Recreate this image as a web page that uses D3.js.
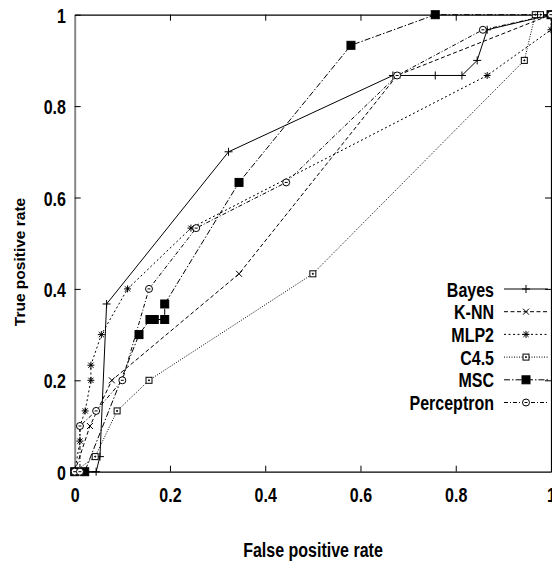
<!DOCTYPE html>
<html>
<head>
<meta charset="utf-8">
<script src="https://cdn.jsdelivr.net/npm/d3@7"></script>
<style>
  body { margin: 0; background: #fff; }
  svg { display: block; }
  text { font-family: "Liberation Sans", Arial, sans-serif; font-weight: bold; fill: #000; }
</style>
</head>
<body>
<svg id="chart"></svg>
<script>
// ROC curves, values
const xTicks = [0, 0.2, 0.4, 0.6, 0.8, 1];
const yTicks = [0, 0.2, 0.4, 0.6, 0.8, 1];
const seriesNames = ["Bayes", "K-NN", "MLP2", "C4.5", "MSC", "Perceptron"];

const bayesX = [0, 0.045, 0.053, 0.067, 0.323, 0.668, 0.757, 0.813, 0.845, 0.866, 1];
const bayesY = [0, 0, 0.033, 0.367, 0.7, 0.867, 0.867, 0.867, 0.9, 0.967, 1];

const knnX = [0, 0.032, 0.078, 0.345, 0.677, 1];
const knnY = [0, 0.1, 0.2, 0.433, 0.867, 1];

const mlpX = [0, 0.011, 0.011, 0.022, 0.034, 0.034, 0.056, 0.111, 0.244, 0.866, 1, 1];
const mlpY = [0, 0.067, 0.1, 0.133, 0.2, 0.233, 0.3, 0.4, 0.533, 0.867, 0.967, 1];

const c45X = [0, 0.043, 0.089, 0.156, 0.5, 0.944, 0.967, 0.978, 1];
const c45Y = [0, 0.033, 0.133, 0.2, 0.433, 0.9, 1, 1, 1];

const mscX = [0, 0.021, 0.135, 0.158, 0.167, 0.189, 0.189, 0.345, 0.58, 0.757, 1];
const mscY = [0, 0, 0.3, 0.333, 0.333, 0.333, 0.367, 0.633, 0.933, 1, 1];

const percX = [0, 0.011, 0.011, 0.045, 0.1, 0.156, 0.255, 0.444, 0.677, 0.857, 1];
const percY = [0, 0, 0.1, 0.133, 0.2, 0.4, 0.533, 0.633, 0.867, 0.967, 1];

const width = 552, height = 563;
const plotLeft = 74.7, plotRight = 551, plotTop = 14.7, plotBottom = 471.7;

const svg = d3.select("#chart").attr("width", width).attr("height", height);

const x = d3.scaleLinear().domain([0, 1]).range([plotLeft, plotRight]);
const y = d3.scaleLinear().domain([0, 1]).range([plotBottom, plotTop]);

const fmt = d => String(+d.toFixed(1));

// frame + inward ticks
const xAxis = svg.append("g").attr("transform", `translate(0,${plotBottom})`)
  .call(d3.axisBottom(x).tickValues(xTicks).tickSizeInner(-6).tickSizeOuter(0).tickFormat(fmt));
const yAxis = svg.append("g").attr("transform", `translate(${plotLeft},0)`)
  .call(d3.axisLeft(y).tickValues(yTicks).tickSizeInner(-6).tickSizeOuter(0).tickFormat(fmt));
svg.append("g").attr("transform", `translate(0,${plotTop})`)
  .call(d3.axisTop(x).tickValues(xTicks.slice(1, -1)).tickSizeInner(-6).tickSizeOuter(0).tickFormat(""));
svg.append("g").attr("transform", `translate(${plotRight},0)`)
  .call(d3.axisRight(y).tickValues(yTicks.slice(1, -1)).tickSizeInner(-6).tickSizeOuter(0).tickFormat(""));

svg.selectAll(".domain").attr("stroke", "#000").attr("stroke-width", 1.2);
svg.selectAll(".tick line").attr("stroke", "#000");
yAxis.select(".domain").attr("stroke", "#888").attr("stroke-width", 2);

xAxis.selectAll(".tick text")
  .attr("y", 30).attr("dy", 0)
  .attr("font-size", 20).attr("font-family", null)
  .attr("transform", "scale(0.8,1)");
yAxis.selectAll(".tick text")
  .attr("x", -11).attr("dy", 0).attr("y", 7.5)
  .attr("font-size", 20).attr("font-family", null)
  .attr("transform", "scale(0.8,1)");

// axis titles
svg.append("text")
  .attr("transform", `translate(313,557) scale(0.8,1)`)
  .attr("text-anchor", "middle").attr("font-size", 20)
  .text("False positive rate");
svg.append("text")
  .attr("transform", `translate(25,262) rotate(-90)`)
  .attr("text-anchor", "middle").attr("font-size", 15.5)
  .text("True positive rate");

// markers
function marker(g, type) {
  if (type === "plus") g.append("path").attr("d", "M-4,0H4M0,-4V4");
  if (type === "cross") g.append("path").attr("d", "M-3,-3L3,3M-3,3L3,-3");
  if (type === "star") g.append("path").attr("d", "M-3.5,0H3.5M0,-3.5V3.5M-2.6,-2.6L2.6,2.6M-2.6,2.6L2.6,-2.6");
  if (type === "box") {
    g.append("rect").attr("x", -3).attr("y", -3).attr("width", 6).attr("height", 6).attr("fill", "#fff");
    g.append("circle").attr("r", 0.6).attr("fill", "#000");
  }
  if (type === "fbox") g.append("rect").attr("x", -4).attr("y", -4).attr("width", 8).attr("height", 8).attr("fill", "#000");
  if (type === "circ") {
    g.append("circle").attr("r", 3.5).attr("fill", "#fff");
    g.append("path").attr("d", "M-1.5,0H1.5");
  }
}

const series = [
  { name: seriesNames[0], xs: bayesX, ys: bayesY, dash: null, mark: "plus" },
  { name: seriesNames[1], xs: knnX, ys: knnY, dash: "4,2.5", mark: "cross" },
  { name: seriesNames[2], xs: mlpX, ys: mlpY, dash: "2,2.5", mark: "star" },
  { name: seriesNames[3], xs: c45X, ys: c45Y, dash: "1,1.5", mark: "box" },
  { name: seriesNames[4], xs: mscX, ys: mscY, dash: "6,2,1.5,2", mark: "fbox" },
  { name: seriesNames[5], xs: percX, ys: percY, dash: "4,2,1,2", mark: "circ" },
];

const line = d3.line().x(d => x(d[0])).y(d => y(d[1]));

series.forEach(s => {
  const pts = s.xs.map((v, i) => [v, s.ys[i]]);
  svg.append("path").datum(pts)
    .attr("d", line).attr("fill", "none").attr("stroke", "#000")
    .attr("stroke-width", 1).attr("stroke-dasharray", s.dash);
  svg.append("g").selectAll("g").data(pts).join("g")
    .attr("transform", d => `translate(${x(d[0])},${y(d[1])})`)
    .attr("stroke", "#000").attr("stroke-width", 1).attr("fill", "none")
    .each(function () { marker(d3.select(this), s.mark); });
});

// legend
const legY = d3.scaleLinear().domain([0, 5]).range([289, 402.5]);
series.forEach((s, i) => {
  const yy = legY(i);
  svg.append("text")
    .attr("transform", `translate(494,${yy + 7.5}) scale(0.8,1)`)
    .attr("text-anchor", "end").attr("font-size", 20)
    .text(s.name);
  svg.append("line").attr("x1", 504).attr("x2", 548).attr("y1", yy).attr("y2", yy)
    .attr("stroke", "#000").attr("stroke-width", 1).attr("stroke-dasharray", s.dash);
  const g = svg.append("g").attr("transform", `translate(526,${yy})`)
    .attr("stroke", "#000").attr("stroke-width", 1).attr("fill", "none");
  marker(g, s.mark);
});
</script>
</body>
</html>
